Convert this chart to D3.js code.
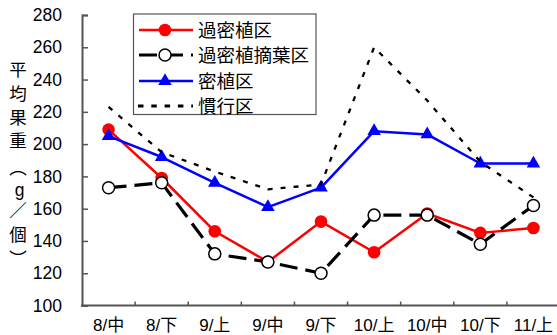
<!DOCTYPE html>
<html>
<head>
<meta charset="utf-8">
<script src="https://cdn.jsdelivr.net/npm/d3@7/dist/d3.min.js"></script>
<style>
  html, body { margin: 0; padding: 0; background: #fff; }
  svg { display: block; }
  text { font-family: "Liberation Sans", Arial, "Noto Sans CJK JP", sans-serif; fill: #000; }
</style>
</head>
<body>
<svg id="chart" width="557" height="335"></svg>
<script>
// Harvest periods
const categories = ["8/中", "8/下", "9/上", "9/中", "9/下", "10/上", "10/中", "10/下", "11/上"];
// Average fruit weight (g per fruit) by plot
const overDense = [209, 179, 146, 127, 152, 133, 157, 145, 148];
const overDenseDefoliated = [173, 176, 132, 127, 120, 156, 156, 138, 162];
const dense = [205, 192, 176, 161, 173, 208, 206, 188, 188];
const conventional = [223, 195, 183, 172, 175, 260, 227, 189, 167];
const yTicks = [100, 120, 140, 160, 180, 200, 220, 240, 260, 280];
const seriesNames = ["過密植区", "過密植摘葉区", "密植区", "慣行区"];
const yTitleChars = ["平", "均", "果", "重", "︵", "g", "／", "個", "︶"];

const svg = d3.select("#chart");
const x = d3.scaleBand().domain(categories).range([82, 560]).paddingInner(0).paddingOuter(0);
const y = d3.scaleLinear().domain([100, 280]).range([305.5, 15]);
const cx = d => x(d) + x.bandwidth() / 2;
const axisColor = "#555";

// Axes
const yAxis = svg.append("g").attr("transform", "translate(82,0)")
  .call(d3.axisRight(y).tickValues(yTicks).tickSize(6).tickFormat(""));
yAxis.select(".domain").attr("stroke", axisColor).attr("stroke-width", 2);
yAxis.selectAll(".tick line").attr("stroke", axisColor).attr("stroke-width", 1.5);

svg.append("g").selectAll("text").data(yTicks).join("text")
  .attr("x", 62).attr("y", d => y(d)).attr("dy", "0.35em")
  .attr("text-anchor", "end").style("font-size", "17.5px").text(d => d);

const xAxis = svg.append("g").attr("transform", "translate(0,305.5)")
  .call(d3.axisTop(x).tickValues(categories.slice(1)).tickSize(4).tickFormat("").tickSizeOuter(0));
xAxis.selectAll(".tick line").attr("stroke", axisColor).attr("stroke-width", 1.5)
  .attr("transform", d => `translate(${-x.bandwidth() / 2},0)`);
xAxis.select(".domain").remove();
svg.append("line").attr("x1", 81).attr("x2", 557).attr("y1", 305.5).attr("y2", 305.5)
  .attr("stroke", axisColor).attr("stroke-width", 2);

svg.append("g").selectAll("text").data(categories).join("text")
  .attr("x", d => cx(d)).attr("y", 331)
  .attr("text-anchor", "middle").style("font-size", "17px").text(d => d);

// Vertical axis title
const titleY = [70, 94, 118, 141, 168, 190, 211, 235, 259];
svg.append("g").selectAll("text").data(yTitleChars).join("text")
  .attr("x", (d, i) => i === 5 ? 19.5 : 18).attr("y", (d, i) => titleY[i]).attr("dy", "0.36em")
  .attr("text-anchor", "middle").style("font-size", "17.5px").text(d => d);

// Series
const line = d3.line().x((d, i) => cx(categories[i])).y(d => y(d));
const tri = d3.symbol().type(d3.symbolTriangle).size(80);

function drawLine(values, color, width, dash) {
  svg.append("path").datum(values).attr("d", line)
    .attr("fill", "none").attr("stroke", color).attr("stroke-width", width)
    .attr("stroke-dasharray", dash || null).attr("stroke-linejoin", "round");
}

// 過密植区
drawLine(overDense, "#ff0000", 2.5);
svg.append("g").selectAll("circle").data(overDense).join("circle")
  .attr("cx", (d, i) => cx(categories[i])).attr("cy", d => y(d)).attr("r", 6.3).attr("fill", "#ff0000");

// 密植区
drawLine(dense, "#0000ff", 2.5);
svg.append("g").selectAll("path").data(dense).join("path")
  .attr("d", tri).attr("fill", "#0000ff")
  .attr("transform", (d, i) => `translate(${cx(categories[i])},${y(d)})`);

// 過密植摘葉区
drawLine(overDenseDefoliated, "#000", 3.2, "18 8");
svg.append("g").selectAll("circle").data(overDenseDefoliated).join("circle")
  .attr("cx", (d, i) => cx(categories[i])).attr("cy", d => y(d)).attr("r", 6)
  .attr("fill", "#fff").attr("stroke", "#000").attr("stroke-width", 1.5);

// 慣行区
drawLine(conventional, "#000", 2.3, "5 8");

// Legend
const lg = svg.append("g");
lg.append("rect").attr("x", 133.5).attr("y", 14).attr("width", 182.5).attr("height", 100.5)
  .attr("fill", "#fff").attr("stroke", "#555").attr("stroke-width", 1.2);
const rowY = [30, 55, 81, 106];
const lx1 = 139, lx2 = 193, lmid = 165;
// row 1
lg.append("line").attr("x1", lx1).attr("x2", lx2).attr("y1", rowY[0]).attr("y2", rowY[0])
  .attr("stroke", "#ff0000").attr("stroke-width", 2.5);
lg.append("circle").attr("cx", lmid).attr("cy", rowY[0]).attr("r", 6.3).attr("fill", "#ff0000");
// row 2
lg.append("line").attr("x1", lx1).attr("x2", lx2).attr("y1", rowY[1]).attr("y2", rowY[1])
  .attr("stroke", "#000").attr("stroke-width", 3.2).attr("stroke-dasharray", "18 8");
lg.append("circle").attr("cx", lmid).attr("cy", rowY[1]).attr("r", 6)
  .attr("fill", "#fff").attr("stroke", "#000").attr("stroke-width", 1.5);
// row 3
lg.append("line").attr("x1", lx1).attr("x2", lx2).attr("y1", rowY[2]).attr("y2", rowY[2])
  .attr("stroke", "#0000ff").attr("stroke-width", 2.5);
lg.append("path").attr("d", tri).attr("fill", "#0000ff")
  .attr("transform", `translate(${lmid},${rowY[2]})`);
// row 4
lg.append("line").attr("x1", lx1 - 1).attr("x2", lx2).attr("y1", rowY[3]).attr("y2", rowY[3])
  .attr("stroke", "#000").attr("stroke-width", 3).attr("stroke-dasharray", "5.5 7.8");

lg.selectAll("text.lbl").data(seriesNames).join("text").attr("class", "lbl")
  .attr("x", 198).attr("y", (d, i) => rowY[i]).attr("dy", "0.36em")
  .style("font-size", "18.5px").text(d => d);
</script>
</body>
</html>
